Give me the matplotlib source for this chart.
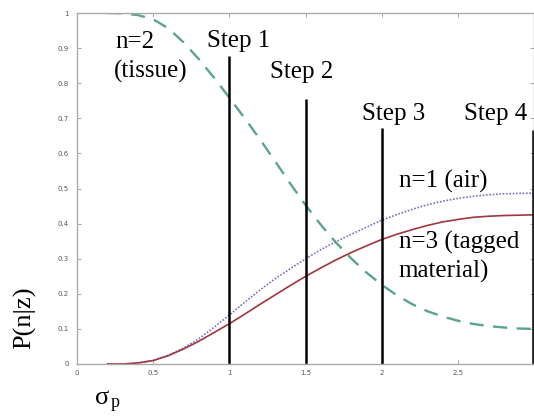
import matplotlib
matplotlib.use("Agg")
import matplotlib.pyplot as plt

# Werte
sigma = [0.2, 0.3, 0.4, 0.5, 0.6, 0.7, 0.8, 0.9, 1.0, 1.1, 1.2, 1.3, 1.4, 1.5, 1.6,
         1.7, 1.8, 1.9, 2.0, 2.1, 2.2, 2.3, 2.4, 2.5, 2.6, 2.7, 2.8, 2.9, 3.0]
p_tissue = [1.0, 0.999, 0.994, 0.982, 0.956, 0.916, 0.868, 0.815, 0.758, 0.70, 0.64, 0.577,
            0.513, 0.452, 0.396, 0.345, 0.30, 0.26, 0.225, 0.195, 0.17, 0.15, 0.135, 0.123,
            0.114, 0.108, 0.104, 0.101, 0.10]
p_air = [0.0, 0.0, 0.003, 0.01, 0.025, 0.046, 0.072, 0.105, 0.14, 0.176, 0.211, 0.243, 0.272,
         0.30, 0.326, 0.349, 0.37, 0.39, 0.41, 0.426, 0.441, 0.454, 0.464, 0.472, 0.478,
         0.482, 0.485, 0.486, 0.487]
p_tagged = [0.0, 0.0, 0.003, 0.01, 0.024, 0.043, 0.065, 0.09, 0.115, 0.142, 0.170, 0.197,
            0.224, 0.250, 0.274, 0.297, 0.318, 0.337, 0.355, 0.37, 0.383, 0.395, 0.405,
            0.412, 0.418, 0.421, 0.423, 0.424, 0.425]

step_x = [1.0, 1.5, 2.0, 2.99]
step_top = [0.877, 0.755, 0.672, 0.667]
step_labels = ["Step 1", "Step 2", "Step 3", "Step 4"]
step_label_pos = [(0.85, 0.903), (1.265, 0.815), (1.868, 0.695), (2.536, 0.695)]

xticks = [0, 0.5, 1, 1.5, 2, 2.5, 3]
xtick_labels = ["0", "0.5", "1", "1.5", "2", "2.5", ""]
yticks = [0, 0.1, 0.2, 0.3, 0.4, 0.5, 0.6, 0.7, 0.8, 0.9, 1]
ytick_labels = ["0", "0.1", "0.2", "0.3", "0.4", "0.5", "0.6", "0.7", "0.8", "0.9", "1"]

serif = "Liberation Serif"

fig = plt.figure(figsize=(5.34, 4.16), dpi=100)
ax = fig.add_axes([0.1442, 0.125, 0.8567, 0.84375])

ax.plot(sigma, p_tissue, color="#5aa58a", lw=1.7, dashes=(6, 4))
ax.plot(sigma, p_air, color="#7272c8", lw=1.2, ls=(0, (1, 1)))
ax.plot(sigma, p_tagged, color="#a3343f", lw=1.2)
ax.vlines(step_x, 0, step_top, color="black", lw=1.8)

for lab, (tx, ty) in zip(step_labels, step_label_pos):
    ax.text(tx, ty, lab, fontsize=18, family=serif, va="baseline")

ax.text(0.25, 0.90, "n=2", fontsize=18, family=serif, va="baseline")
ax.text(0.24, 0.815, "(tissue)", fontsize=18, family=serif, va="baseline")
ax.text(2.11, 0.504, "n=1 (air)", fontsize=18, family=serif, va="baseline")
ax.text(2.11, 0.33, "n=3 (tagged", fontsize=18, family=serif, va="baseline")
ax.text(2.11, 0.245, "material)", fontsize=18, family=serif, va="baseline")

ax.set_xlim(0, 3)
ax.set_ylim(0, 1)
ax.set_xticks(xticks, xtick_labels)
ax.set_yticks(yticks, ytick_labels)
ax.tick_params(direction="in", length=3, width=0.6, color="#999999",
               labelsize=5, labelcolor="#555555", top=True, right=True)
ax.tick_params(axis="y", pad=6)
ax.tick_params(axis="x", pad=4)
for s in ax.spines.values():
    s.set_color("#aaaaaa")
    s.set_linewidth(1.0)

fig.text(0.047, 0.235, "P(n|z)", rotation=90, fontsize=19, family=serif,
         ha="center", va="center")
fig.text(0.178, 0.03, "σ", fontsize=19, family=serif)
fig.text(0.207, 0.022, "p", fontsize=13, family=serif)

fig.savefig("out.png", dpi=100)
